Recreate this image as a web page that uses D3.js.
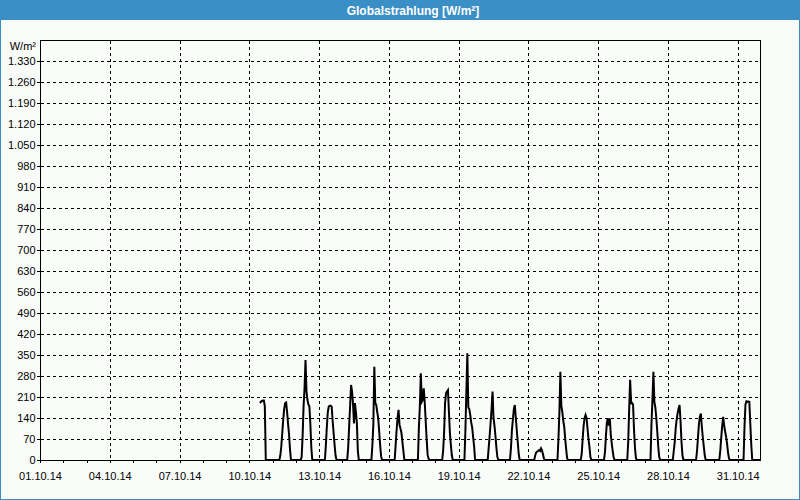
<!DOCTYPE html>
<html><head><meta charset="utf-8">
<script src="https://cdn.jsdelivr.net/npm/d3@7"></script>
<style>
html,body{margin:0;padding:0;background:#fafcfa;}
svg{display:block;}
</style></head><body>
<svg id="chart" width="800" height="500"></svg>
<script>
const chartTitle = "Globalstrahlung [W/m²]";
const yUnit = "W/m²";
const yTicks = [0,70,140,210,280,350,420,490,560,630,700,770,840,910,980,1050,1120,1190,1260,1330];
const xLabelDates = ["2014-10-01","2014-10-04","2014-10-07","2014-10-10","2014-10-13","2014-10-16","2014-10-19","2014-10-22","2014-10-25","2014-10-28","2014-10-31"];
const dayDates = ["2014-10-10","2014-10-11","2014-10-12","2014-10-13","2014-10-14","2014-10-15","2014-10-16","2014-10-17","2014-10-18","2014-10-19","2014-10-20","2014-10-21","2014-10-22","2014-10-23","2014-10-24","2014-10-25","2014-10-26","2014-10-27","2014-10-28","2014-10-29","2014-10-30","2014-10-31"];
const dayStartHours = [11,6,5,6,5,6,6,6,7,6,6,5,6,6,6,6,6,6,5,5,5,6];
const dayValues = [
  [190,194,197,198,198,180,0],
  [0,0,15,45,90,135,170,190,192,160,120,85,35,0],
  [0,10,80,180,240,333,228,200,185,178,120,40,0],
  [0,50,110,160,178,181,181,178,130,90,50,15,0],
  [0,40,110,180,250,230,188,122,190,160,122,30,0],
  [0,50,120,311,190,183,160,140,95,50,12,0],
  [0,50,100,140,167,117,105,90,60,30,0],
  [0,110,180,289,194,200,239,194,130,70,17,5,0],
  [0,30,90,190,222,228,233,160,90,50,15,0],
  [0,100,230,356,175,170,150,125,108,75,45,0],
  [0,40,80,125,170,228,140,115,80,40,10,0],
  [0,40,100,135,170,183,140,100,60,20,0],
  [0,15,25,28,30,33,30,39,32,20,5,0],
  [0,70,160,294,180,160,130,110,70,35,5,0],
  [0,20,70,115,140,150,140,105,70,44,10,0],
  [0,25,80,125,139,115,139,85,55,30,8,0],
  [0,60,170,267,189,190,185,100,40,5,0],
  [0,120,200,294,194,175,140,95,45,10,0],
  [0,30,60,105,135,156,172,183,130,60,15,0],
  [0,30,75,120,145,155,110,75,45,15,0],
  [0,30,75,115,144,115,95,78,55,25,5,0],
  [0,110,185,196,194,195,194,120,50,0,0,0,0,0,0,0,0,0]
];

const svg = d3.select("#chart");
const W = 800, H = 500;
const mLeft = 40, mRight = 760, mTop = 40, mBottom = 460;
const blue = "#3b8fc7";
const font = "'Liberation Sans', Arial, sans-serif";

svg.append("rect").attr("x",0).attr("y",0).attr("width",W).attr("height",H).attr("fill","#fafcfa");
svg.append("rect").attr("x",0).attr("y",0).attr("width",W).attr("height",20).attr("fill",blue);
svg.append("rect").attr("x",0.5).attr("y",0.5).attr("width",W-1).attr("height",H-1)
  .attr("fill","none").attr("stroke",blue).attr("stroke-width",1);
svg.append("text").attr("x",413).attr("y",14.5).attr("text-anchor","middle")
  .attr("fill","#ffffff").attr("font-family",font).attr("font-weight","bold").attr("font-size","12px")
  .text(chartTitle);

const parseDay = d3.utcParse("%Y-%m-%d");
const x = d3.scaleUtc()
  .domain([Date.UTC(2014,9,1,0), Date.UTC(2014,9,31,23)])
  .range([mLeft, mRight]);
const y = d3.scaleLinear().domain([0,1400]).range([mBottom, mTop]);

const locale = d3.formatLocale({decimal:",", thousands:".", grouping:[3], currency:["","€"]});
const yFmt = locale.format(",d");

// grid
const grid = svg.append("g").attr("stroke","#000").attr("stroke-width",1)
  .attr("stroke-dasharray","3,3").attr("shape-rendering","crispEdges");
grid.selectAll("line.h").data(yTicks.filter(v=>v>0)).join("line").attr("class","h")
  .attr("x1",mLeft+0.5).attr("x2",mRight+0.5)
  .attr("y1",d=>Math.round(y(d))+0.5).attr("y2",d=>Math.round(y(d))+0.5);
const labelDates = xLabelDates.map(parseDay);
grid.selectAll("line.v").data(labelDates.slice(1)).join("line").attr("class","v")
  .attr("x1",d=>Math.round(x(d))+0.5).attr("x2",d=>Math.round(x(d))+0.5)
  .attr("y1",mTop+0.5).attr("y2",mBottom+0.5);

// frame top & right
svg.append("line").attr("x1",mLeft).attr("x2",mRight+1).attr("y1",mTop+0.5).attr("y2",mTop+0.5)
  .attr("stroke","#000").attr("shape-rendering","crispEdges");
svg.append("line").attr("x1",mRight+0.5).attr("x2",mRight+0.5).attr("y1",mTop).attr("y2",mBottom+1)
  .attr("stroke","#000").attr("shape-rendering","crispEdges");

// axes
const labelSet = new Set(xLabelDates);
const fmtDay = d3.utcFormat("%Y-%m-%d");
const fmtLabel = d3.utcFormat("%d.%m.%y");
const dayTicks = d3.utcDay.range(new Date(Date.UTC(2014,9,1)), new Date(Date.UTC(2014,9,31,1)));
const xAxis = d3.axisBottom(x).tickValues(dayTicks).tickSize(3).tickSizeOuter(0).tickPadding(9)
  .tickFormat(d => labelSet.has(fmtDay(d)) ? fmtLabel(d) : "");
const gx = svg.append("g").attr("transform",`translate(0,${mBottom})`).call(xAxis);
const yAxis = d3.axisLeft(y).tickValues(yTicks).tickSize(3).tickSizeOuter(0).tickPadding(1.5).tickFormat(yFmt);
const gy = svg.append("g").attr("transform",`translate(${mLeft},0)`).call(yAxis);
[gx,gy].forEach(g=>{
  g.attr("font-family",font).attr("font-size","11px");
  g.selectAll("path,line").attr("stroke","#000").attr("shape-rendering","crispEdges");
  g.selectAll("text").attr("fill","#000");
});
svg.append("text").attr("x",36).attr("y",50).attr("text-anchor","end")
  .attr("font-family",font).attr("font-size","11px").attr("fill","#000").text(yUnit);

// data
const series = [];
dayDates.forEach((ds,i)=>{
  const d0 = parseDay(ds);
  dayValues[i].forEach((v,j)=>{
    series.push({t: new Date(d0.getTime() + (dayStartHours[i]+j)*3600000), v});
  });
});
const line = d3.line().x(d=>x(d.t)).y(d=>y(d.v));
svg.append("path").datum(series).attr("d",line)
  .attr("fill","none").attr("stroke","#000").attr("stroke-width",2).attr("stroke-linejoin","miter");
</script>
</body></html>
